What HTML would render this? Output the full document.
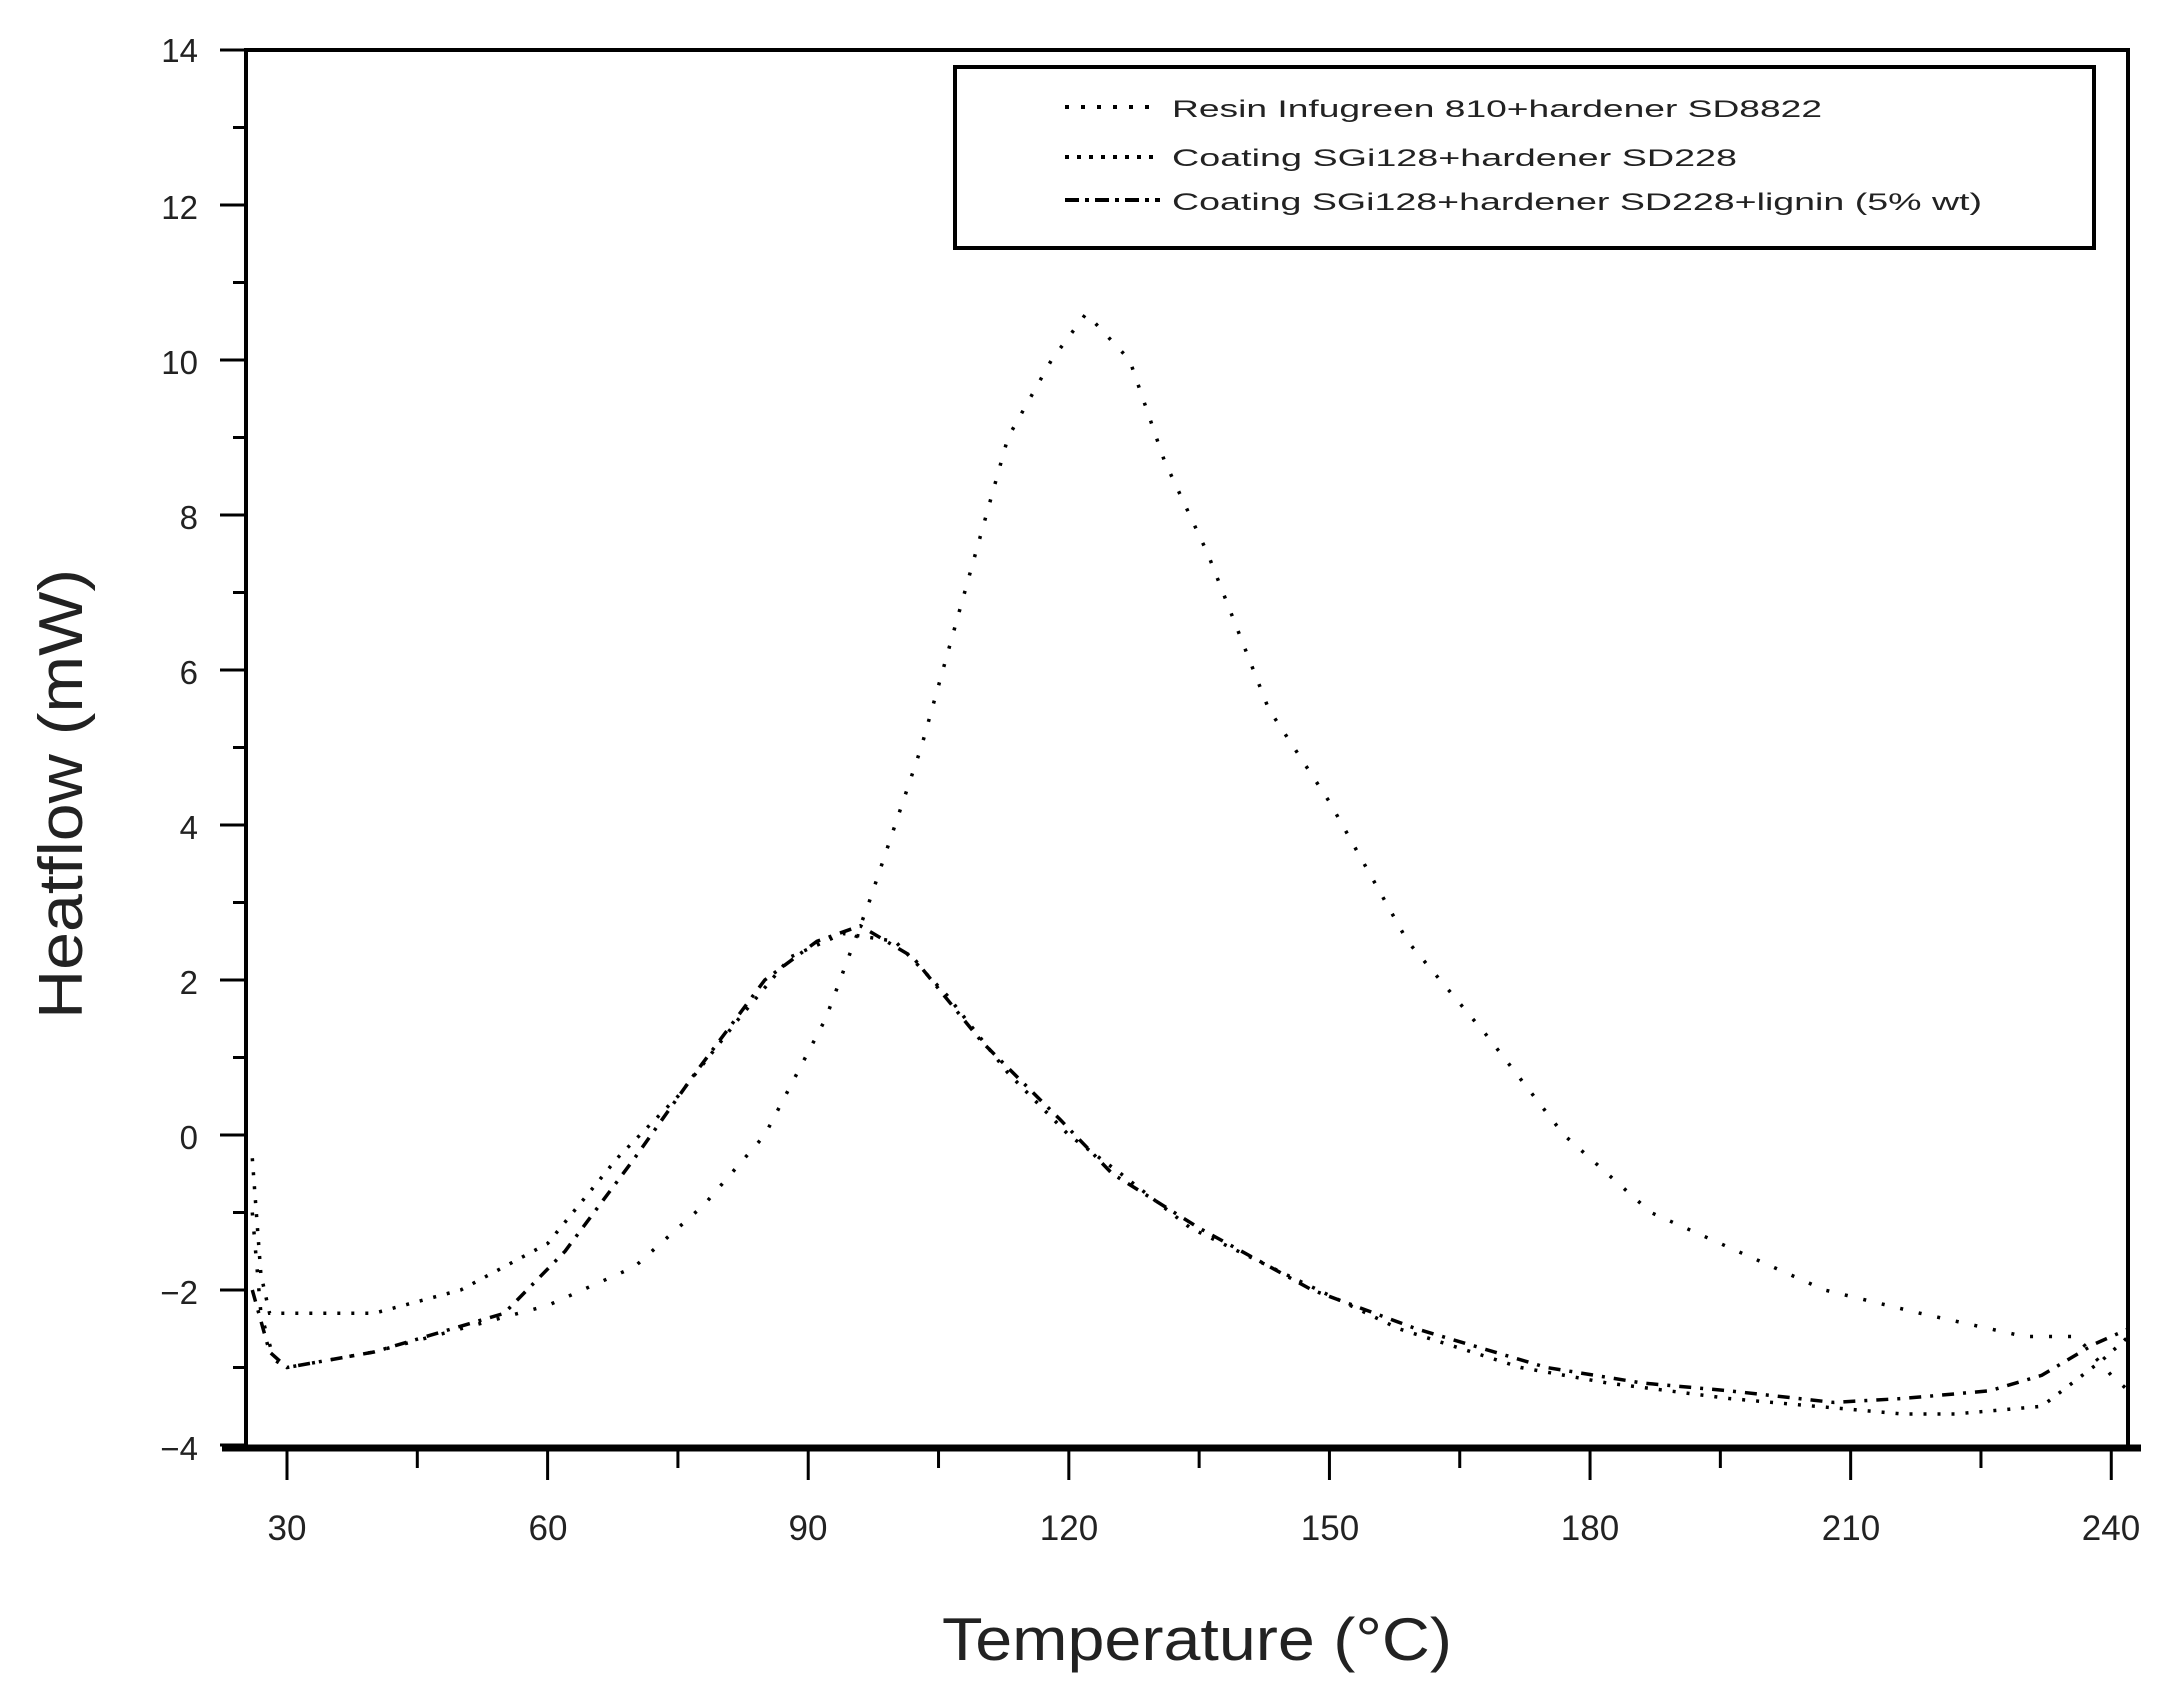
<!DOCTYPE html>
<html><head><meta charset="utf-8"><style>
html,body{margin:0;padding:0;background:#fff;}
svg{display:block;}
text{font-family:"Liberation Sans",sans-serif;fill:#222;}
</style></head><body>
<svg id="s" width="2172" height="1684" viewBox="0 0 2172 1684" xmlns="http://www.w3.org/2000/svg">
<rect width="2172" height="1684" fill="#fff"/>
<g id="ticks" stroke="#000" stroke-width="3"></g>
<g id="curves" fill="none" stroke="#000" stroke-width="3.5"></g>
<rect x="246" y="50" width="1882" height="1398" fill="none" stroke="#000" stroke-width="4"/>
<line x1="222" y1="1448" x2="2141" y2="1448" stroke="#000" stroke-width="7"/>
<g font-size="33" text-anchor="end" fill="#444">
<text x="198" y="62">14</text><text x="198" y="219">12</text><text x="198" y="374">10</text>
<text x="198" y="529">8</text><text x="198" y="684">6</text><text x="198" y="839">4</text>
<text x="198" y="994">2</text><text x="198" y="1149">0</text><text x="198" y="1304">−2</text>
<text x="198" y="1460">−4</text>
</g>
<g font-size="35" text-anchor="middle">
<text x="287" y="1540">30</text><text x="548" y="1540">60</text><text x="808" y="1540">90</text>
<text x="1069" y="1540">120</text><text x="1330" y="1540">150</text><text x="1590" y="1540">180</text>
<text x="1851" y="1540">210</text><text x="2111" y="1540">240</text>
</g>
<text x="1197" y="1660" font-size="60" text-anchor="middle" textLength="510" lengthAdjust="spacingAndGlyphs">Temperature (°C)</text>
<text transform="translate(82,794) rotate(-90)" font-size="62" text-anchor="middle" textLength="450" lengthAdjust="spacingAndGlyphs">Heatflow (mW)</text>
<rect x="955" y="67" width="1139" height="181" fill="#fff" stroke="#000" stroke-width="4"/>
<g stroke="#000" stroke-width="4">
<line x1="1065" y1="107" x2="1157" y2="107" stroke-dasharray="4 12"/>
<line x1="1065" y1="157" x2="1157" y2="157" stroke-dasharray="4 8"/>
<line x1="1065" y1="200" x2="1160" y2="200" stroke-dasharray="14 6 4 6"/>
</g>
<g font-size="24">
<text x="1172" y="117" textLength="650" lengthAdjust="spacingAndGlyphs">Resin Infugreen 810+hardener SD8822</text>
<text x="1172" y="166" textLength="565" lengthAdjust="spacingAndGlyphs">Coating SGi128+hardener SD228</text>
<text x="1172" y="210" textLength="810" lengthAdjust="spacingAndGlyphs">Coating SGi128+hardener SD228+lignin (5% wt)</text>
</g>
</svg>
<script>
var NS="http://www.w3.org/2000/svg";
function X(t){return 287+(t-30)*8.687;}
function Y(v){return 50+(14-v)*77.5;}
var tk=document.getElementById("ticks");
function ln(a,b,c,d){var l=document.createElementNS(NS,"line");l.setAttribute("x1",a);l.setAttribute("y1",b);l.setAttribute("x2",c);l.setAttribute("y2",d);tk.appendChild(l);}
for(var v=-4;v<=14;v++){ln(v%2==0?220:233,Y(v),246,Y(v));}
for(var t=30;t<=240;t+=15){ln(X(t),1448,X(t),t%30==0?1480:1468);}
var C=[
[[26,-1],[27,-2.3],[28.5,-2.9],[30,-3],[40,-2.8],[50,-2.5],[60,-2.2],[70,-1.7],[78,-0.9],[85,0],[92,1.5],[97,3],[103,5],[108,7],[113,9],[118,10],[122,10.6],[127,10],[131,8.7],[136,7.5],[143,5.5],[150,4.3],[159,2.5],[168,1.3],[177,0],[187,-1],[197,-1.5],[207,-2],[218,-2.3],[230,-2.6],[236,-2.6],[240,-3.1],[242,-3.3]],
[[26,-0.3],[27,-1.8],[28,-2.3],[40,-2.3],[50,-2],[60,-1.4],[68,-0.3],[75,0.5],[82,1.5],[88,2.3],[94,2.6],[100,2.5],[106,1.8],[113,0.8],[120,0],[126,-0.5],[134,-1.2],[145,-1.8],[158,-2.5],[172,-3],[182,-3.2],[196,-3.4],[206,-3.5],[216,-3.6],[222,-3.6],[232,-3.5],[239,-2.9],[242,-2.6]],
[[26,-2],[28,-2.8],[30,-3],[40,-2.8],[55,-2.3],[62,-1.5],[70,-0.3],[77,0.8],[85,2],[91,2.5],[96,2.7],[102,2.3],[110,1.2],[119,0.2],[125,-0.5],[135,-1.2],[148,-2],[160,-2.5],[175,-3],[186,-3.2],[196,-3.3],[208,-3.45],[216,-3.4],[226,-3.3],[232,-3.1],[238,-2.7],[242,-2.5]]];
var D=["3 16","3 11","12 9 3 9"];
var g=document.getElementById("curves");
C.forEach(function(c,i){var p=document.createElementNS(NS,"polyline");p.setAttribute("points",c.map(function(q){return X(q[0]).toFixed(1)+","+Y(q[1]).toFixed(1);}).join(" "));p.setAttribute("stroke-dasharray",D[i]);g.appendChild(p);});
</script>
</body></html>
